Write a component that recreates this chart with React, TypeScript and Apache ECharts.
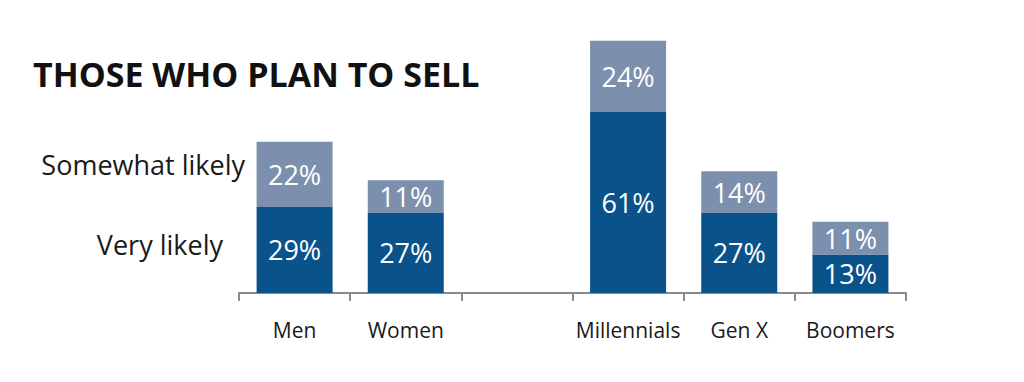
import React, { useEffect, useRef } from "react";
import * as echarts from "echarts";

const categories = ["Men", "Women", "", "Millennials", "Gen X", "Boomers"];
const veryLikely = [29, 27, null, 61, 27, 13];
const somewhatLikely = [22, 11, null, 24, 14, 11];
const seriesNames = ["Very likely", "Somewhat likely"];
const title = "THOSE WHO PLAN TO SELL";

export default function App() {
  const ref = useRef<HTMLDivElement>(null);
  useEffect(() => {
    if (!ref.current) return;
    const chart = echarts.init(ref.current, null, { renderer: "svg" });
    const font = "'Open Sans', sans-serif";
    const label = {
      show: true,
      position: "inside",
      color: "#ffffff",
      fontFamily: font,
      fontSize: 27,
      formatter: (p: any) => (p.value == null ? "" : p.value + "%"),
    };
    chart.setOption({
      animation: false,
      backgroundColor: "#ffffff",
      grid: { left: 239, right: 118, top: 26, bottom: 89 },
      xAxis: {
        type: "category",
        data: categories,
        axisLine: { lineStyle: { color: "#8a8a8a", width: 2 } },
        axisTick: { show: true, interval: 0, length: 8, lineStyle: { color: "#8a8a8a", width: 2 } },
        axisLabel: { interval: 0, color: "#1a1a1a", fontFamily: font, fontSize: 21, margin: 26 },
      },
      yAxis: { type: "value", min: 0, max: 90, show: false, splitLine: { show: false } },
      graphic: [
        {
          type: "text",
          left: 33,
          top: 57,
          style: { text: title, fontFamily: font, fontWeight: "bold", fontSize: 34, fill: "#111111" },
        },
        {
          type: "text",
          right: 1024 - 245,
          top: 151,
          style: { text: seriesNames[1], fontFamily: font, fontSize: 27, fill: "#1a1a1a" },
        },
        {
          type: "text",
          right: 1024 - 223,
          top: 231,
          style: { text: seriesNames[0], fontFamily: font, fontSize: 27, fill: "#1a1a1a" },
        },
      ],
      series: [
        {
          name: seriesNames[0],
          type: "bar",
          stack: "a",
          data: veryLikely,
          barWidth: 76,
          itemStyle: { color: "#0A528A" },
          label,
        },
        {
          name: seriesNames[1],
          type: "bar",
          stack: "a",
          data: somewhatLikely,
          barWidth: 76,
          itemStyle: { color: "#7C90AD" },
          label,
        },
      ],
    });
    return () => chart.dispose();
  }, []);
  return (
    <div
      ref={ref}
      style={{ position: "fixed", left: 0, top: 0, width: 1024, height: 382, background: "#fff" }}
    />
  );
}
